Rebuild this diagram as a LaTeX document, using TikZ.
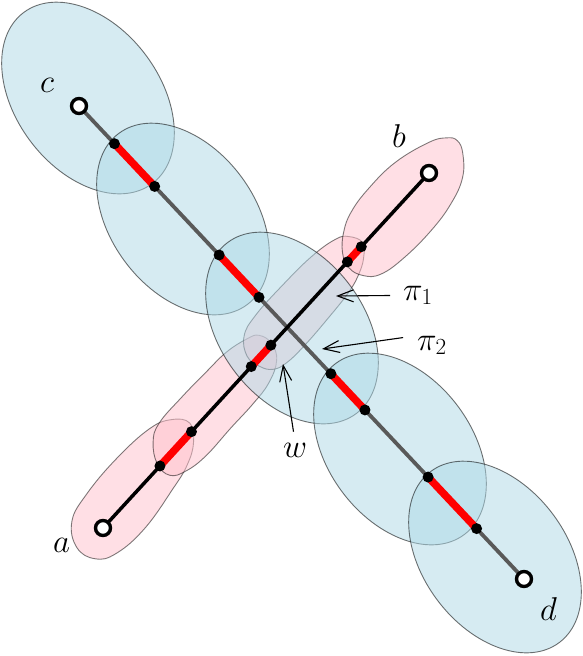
\RequirePackage{fix-cm}
\documentclass[tikz,border=0pt]{standalone}
\usetikzlibrary{arrows.meta,calc}
\definecolor{blobblue}{RGB}{173,216,230}
\definecolor{blobpink}{RGB}{255,192,203}
\begin{document}
\begin{tikzpicture}[x=1pt,y=1pt,
  pinkblob/.style={fill=blobpink, fill opacity=0.5, draw=black, draw opacity=0.5, line width=0.9pt},
  blueblob/.style={fill=blobblue, fill opacity=0.5, draw=black, draw opacity=0.55, line width=0.9pt},
  cdline/.style={line width=3.8pt, draw=black!65},
  abline/.style={line width=3.5pt, draw=black},
  redseg/.style={line width=7.5pt, draw=red},
  dot/.style={circle, fill=black, inner sep=0pt, minimum size=11pt},
  term/.style={circle, draw=black, fill=white, line width=3.4pt, inner sep=0pt, minimum size=15pt},
  lbl/.style={inner sep=0pt, font=\fontsize{33}{40}\selectfont},
  arr/.style={-{Straight Barb[length=16pt,width=12pt]}, line width=1.1pt}
]
\useasboundingbox (0,0) rectangle (583,-656);

% pink regions along a--b
\begin{scope}[shift={(103,-528)}, rotate=47.44]
  \draw[pinkblob] plot[smooth cycle, tension=0.7] coordinates {(136,7) (126,23) (104,33) (60,37) (14,35) (-16,27.5) (-32,6.3) (-28,-15) (-9.6,-27) (28,-31) (76,-25) (103,-19.5) (124,-9)};
  \draw[pinkblob] plot[smooth cycle, tension=0.7] coordinates {(250,1) (247.4,15.5) (236.4,22) (213.3,28) (185.8,29.5) (149.8,30.5) (115,29.5) (97,21) (84,3.4) (84,-13.5) (98,-22.5) (122.6,-27) (160,-26.5) (192.7,-26.5) (219,-24) (241,-14.5)};
  \draw[pinkblob] plot[smooth cycle, tension=0.7] coordinates {(386,2) (381,16) (370,24) (341,30) (300,32) (260,31.5) (237,26) (224,10) (225,-6) (232,-18) (246,-23.5) (270,-25) (305,-24) (340,-21.5) (362,-16) (377,-8)};
  \draw[pinkblob] plot[smooth cycle, tension=0.7] coordinates {(525,1) (519.6,11) (504,21) (467,32) (430,34) (401,31) (381,23) (365,10) (358,-5) (362,-21) (375,-33) (403,-39) (441,-40.5) (474,-37) (501,-28) (519,-12)};
\end{scope}

% blue regions along c--d
\path[blueblob, rotate around={-53:(88,-98)}] (88,-98) ellipse [x radius=107, y radius=72];
\path[blueblob, rotate around={-53:(183,-219)}] (183,-219) ellipse [x radius=107, y radius=72];
\path[blueblob, rotate around={-53:(292,-328)}] (292,-328) ellipse [x radius=107, y radius=72];
\path[blueblob, rotate around={-53:(400,-449)}] (400,-449) ellipse [x radius=107, y radius=72];
\path[blueblob, rotate around={-53:(495,-557)}] (495,-557) ellipse [x radius=107, y radius=72];

% terminals and points
\coordinate (c) at (79,-106);
\coordinate (d) at (524,-579);
\coordinate (a) at (103,-528);
\coordinate (b) at (429,-173);
\coordinate (q1) at ($(c)!0.0797!(d)$);
\coordinate (q2) at ($(c)!0.17!(d)$);
\coordinate (q3) at ($(c)!0.315!(d)$);
\coordinate (q4) at ($(c)!0.4045!(d)$);
\coordinate (q5) at ($(c)!0.566!(d)$);
\coordinate (q6) at ($(c)!0.6426!(d)$);
\coordinate (q7) at ($(c)!0.7845!(d)$);
\coordinate (q8) at ($(c)!0.8934!(d)$);
\coordinate (r1) at ($(a)!0.1747!(b)$);
\coordinate (r2) at ($(a)!0.2714!(b)$);
\coordinate (r3) at ($(a)!0.4548!(b)$);
\coordinate (r4) at ($(a)!0.515!(b)$);
\coordinate (r5) at ($(a)!0.7496!(b)$);
\coordinate (r6) at ($(a)!0.7923!(b)$);

\draw[cdline] (c) -- (d);
\draw[abline] (a) -- (b);
\draw[redseg] (q1) -- (q2);
\draw[redseg] (q3) -- (q4);
\draw[redseg] (q5) -- (q6);
\draw[redseg] (q7) -- (q8);
\draw[redseg] (r1) -- (r2);
\draw[redseg] (r3) -- (r4);
\draw[redseg] (r5) -- (r6);

\foreach \p in {q1,q2,q3,q4,q5,q6,q7,q8,r1,r2,r3,r4,r5,r6}
  \node[dot] (D\p) at (\p) {};
\node[term] (C) at (c) {};
\node[term] (Dd) at (d) {};
\node[term] (A) at (a) {};
\node[term] (B) at (b) {};

% labels
\node[lbl, anchor=base west] (la) at (53,-552) {$a$};
\node[lbl, anchor=base west] (lb) at (392,-147) {$b$};
\node[lbl, anchor=base west] (lc) at (40,-92) {$c$};
\node[lbl, anchor=base west] (ld) at (540,-620) {$d$};
\node[lbl, anchor=base west] (pi1) at (403,-300) {$\pi_1$};
\node[lbl, anchor=base west] (pi2) at (417,-350) {$\pi_2$};
\node[lbl, anchor=base west] (lw) at (283,-457) {$w$};

\coordinate (t1) at (336,-296);
\coordinate (t2) at (322,-349);
\coordinate (tw) at (283,-364);
\draw[arr, shorten <=13pt] (pi1.west) -- (t1);
\draw[arr, shorten <=14pt] (pi2.north west) -- (t2);
\draw[arr, shorten <=11pt] (lw.north) -- (tw);
\end{tikzpicture}
\end{document}
